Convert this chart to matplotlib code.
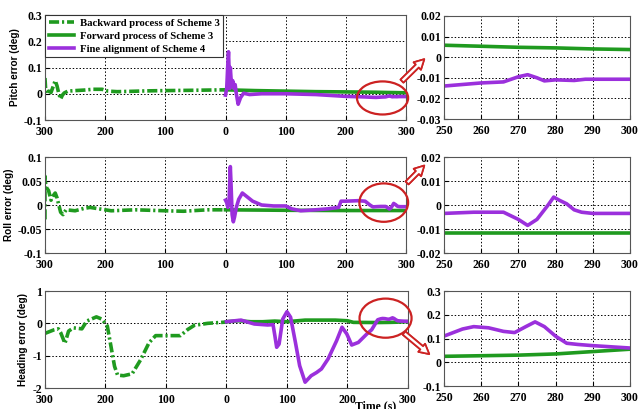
import numpy as np
import matplotlib
matplotlib.use("Agg")
import matplotlib.pyplot as plt
from matplotlib.patches import Ellipse

#===Data===#
# backward process: time counted back from 300 s (plotted on the left half)
pitch_back_t = [300, 299, 297, 294, 290, 286, 283, 280, 277, 274, 271, 268, 262, 250, 235, 220, 205, 195, 180, 160, 130, 100, 60, 30, 0]
pitch_back_v = [0.06, 0.02, 0.0, 0.01, 0.005, 0.03, 0.05, 0.03, 0.0, -0.02, -0.005, 0.003, 0.01, 0.012, 0.014, 0.017, 0.017, 0.01, 0.008, 0.009, 0.011, 0.012, 0.013, 0.014, 0.015]
pitch_fwd_t = [0, 50, 100, 150, 200, 250, 260, 270, 280, 290, 300]
pitch_fwd_v = [0.015, 0.012, 0.01, 0.008, 0.007, 0.0058, 0.0053, 0.0048, 0.0045, 0.004, 0.0037]
pitch_fine_t = [0, 2, 4, 5, 6, 7, 8, 10, 12, 14, 16, 18, 21, 25, 30, 40, 60, 100, 150, 200, 230, 250, 260, 266, 270, 272.5, 275, 277, 280, 285, 288, 300]
pitch_fine_v = [-0.005, 0.02, 0.12, 0.16, 0.09, 0.02, 0.1, 0.03, 0.05, 0.02, 0.035, 0.0, -0.04, -0.015, 0.002, -0.003, 0.0, 0.0, -0.003, -0.01, -0.012, -0.014, -0.0125, -0.012, -0.0095, -0.0085, -0.01, -0.0115, -0.011, -0.0113, -0.0107, -0.0107]

roll_back_t = [300, 300, 299, 297, 294, 290, 286, 283, 280, 277, 274, 270, 265, 250, 235, 225, 210, 190, 150, 100, 70, 30, 0]
roll_back_v = [-0.03, 0.06, 0.045, 0.035, 0.03, 0.01, 0.02, 0.025, 0.015, 0.0, -0.015, -0.02, -0.01, -0.012, -0.007, -0.005, -0.008, -0.012, -0.01, -0.012, -0.013, -0.01, -0.01]
roll_fwd_t = [0, 100, 200, 250, 300]
roll_fwd_v = [-0.01, -0.011, -0.0115, -0.0115, -0.0115]
roll_fine_t = [0, 2, 4, 6, 8, 9, 11, 13, 15, 18, 22, 28, 35, 45, 60, 80, 100, 110, 125, 150, 170, 188, 192, 200, 220, 232, 240, 245, 250, 258, 266, 270, 272.5, 275, 278, 279.5, 281, 283, 285, 287, 290, 300]
roll_fine_v = [0.01, 0.005, -0.005, 0.01, 0.08, 0.05, -0.02, -0.035, -0.025, -0.005, 0.012, 0.025, 0.018, 0.008, 0.0, -0.002, -0.002, -0.008, -0.012, -0.01, -0.008, -0.005, 0.008, 0.008, 0.009, 0.008, 0.0, -0.004, -0.0035, -0.003, -0.003, -0.006, -0.0085, -0.006, 0.0, 0.0033, 0.002, 0.0005, -0.002, -0.003, -0.0035, -0.0035]

head_back_t = [300, 285, 278, 274, 267, 261, 253, 239, 231, 215, 206, 197, 192, 185, 180, 170, 156, 142, 128, 117, 98, 76, 64, 53, 31, 0]
head_back_v = [-0.31, -0.2, -0.17, -0.29, -0.62, -0.24, -0.14, -0.17, 0.07, 0.2, 0.13, -0.08, -0.6, -1.33, -1.6, -1.62, -1.56, -1.13, -0.6, -0.38, -0.38, -0.38, -0.19, -0.06, 0.0, 0.04]
head_fwd_t = [0, 20, 40, 60, 80, 100, 130, 180, 200, 210, 250, 270, 280, 290, 300]
head_fwd_v = [0.05, 0.08, 0.05, 0.05, 0.07, 0.05, 0.1, 0.1, 0.08, 0.03, 0.025, 0.03, 0.035, 0.045, 0.055]
head_fine_t = [0, 24, 46, 68, 77, 80, 83, 87, 93, 100, 106, 114, 121, 130, 140, 149, 157, 168, 182, 191, 199, 207, 218, 232, 240, 250, 255, 258, 262, 266, 269, 272, 274.5, 277, 280, 283, 286, 290, 295, 300]
head_fine_v = [0.05, 0.1, -0.02, -0.05, -0.04, -0.38, -0.74, -0.64, 0.13, 0.36, 0.19, -0.59, -1.31, -1.82, -1.62, -1.52, -1.41, -1.1, -0.54, -0.12, -0.33, -0.67, -0.59, -0.33, -0.2, 0.11, 0.14, 0.15, 0.145, 0.13, 0.125, 0.15, 0.17, 0.15, 0.11, 0.08, 0.075, 0.07, 0.065, 0.06]

main_xticks = [-300, -200, -100, 0, 100, 200, 300]
main_xlabels = ['300', '200', '100', '0', '100', '200', '300']
zoom_xticks = [250, 260, 270, 280, 290, 300]

rows = [
    ("Pitch error (deg)", pitch_back_t, pitch_back_v, pitch_fwd_t, pitch_fwd_v, pitch_fine_t, pitch_fine_v,
     (-0.1, 0.3), [-0.1, 0, 0.1, 0.2, 0.3], ['-0.1', '0', '0.1', '0.2', '0.3'],
     (-0.03, 0.02), [-0.03, -0.02, -0.01, 0, 0.01, 0.02], ['-0.03', '-0.02', '-0.01', '0', '0.01', '0.02']),
    ("Roll error (deg)", roll_back_t, roll_back_v, roll_fwd_t, roll_fwd_v, roll_fine_t, roll_fine_v,
     (-0.1, 0.1), [-0.1, -0.05, 0, 0.05, 0.1], ['-0.1', '-0.05', '0', '0.05', '0.1'],
     (-0.02, 0.02), [-0.02, -0.01, 0, 0.01, 0.02], ['-0.02', '-0.01', '0', '0.01', '0.02']),
    ("Heading error (deg)", head_back_t, head_back_v, head_fwd_t, head_fwd_v, head_fine_t, head_fine_v,
     (-2, 1), [-2, -1, 0, 1], ['-2', '-1', '0', '1'],
     (-0.1, 0.3), [-0.1, 0, 0.1, 0.2, 0.3], ['-0.1', '0', '0.1', '0.2', '0.3']),
]

#===Style===#
green = '#1f9a1f'
purple = '#9b30dc'
red = '#cc2222'
lw = 2.6
dashdot = (0, (2.8, 0.8, 0.6, 0.8))
tickfont = dict(family='Liberation Serif', weight='bold', size=8.5)

main_pos = [[0.0704, 0.7066, 0.565, 0.2567],
            [0.0704, 0.3814, 0.565, 0.2347],
            [0.0704, 0.0513, 0.568, 0.2372]]
zoom_pos = [[0.6948, 0.709, 0.291, 0.252],
            [0.6948, 0.3814, 0.291, 0.2347],
            [0.6948, 0.0562, 0.291, 0.2323]]
ellipses = [(261, -0.016, 85, 0.126), (263, 0.005, 81, 0.08), (263, 0.16, 86, 1.21)]
arrows = [((0.626, 0.797), (0.667, 0.860)),
          ((0.634, 0.548), (0.667, 0.600)),
          ((0.629, 0.190), (0.675, 0.130))]

fig = plt.figure(figsize=(6.39, 4.09), dpi=100)

for i, row in enumerate(rows):
    (ylab, bt, bv, ft, fv, nt, nv, ylim, yt, ytl, zylim, zyt, zytl) = row

    ax = fig.add_axes(main_pos[i])
    ax.plot(-np.array(bt), bv, color=green, lw=lw, ls=dashdot, label='Backward process of Scheme 3')
    ax.plot(ft, fv, color=green, lw=lw, label='Forward process of Scheme 3')
    ax.plot(nt, nv, color=purple, lw=lw, label='Fine alignment of Scheme 4')
    ax.set_xlim(-300, 300)
    ax.set_ylim(*ylim)
    ax.set_xticks(main_xticks)
    ax.set_xticklabels(main_xlabels, fontdict=tickfont)
    ax.set_yticks(yt)
    ax.set_yticklabels(ytl, fontdict=tickfont)
    ax.set_ylabel(ylab, family='Liberation Sans', weight='bold', fontsize=7.2, labelpad=3)
    ax.grid(True, color='black', ls=(0, (1.5, 2)), lw=0.7)
    ax.tick_params(length=3, pad=2, direction='in')
    ax.tick_params(axis='x', pad=4)
    for s in ax.spines.values():
        s.set_color('#555555')
    cx, cy, w, h = ellipses[i]
    ax.add_patch(Ellipse((cx, cy), w, h, fill=False, ec=red, lw=1.6, clip_on=False, zorder=5))
    if i == 0:
        leg = ax.legend(loc='upper left', borderaxespad=0, fancybox=False, handlelength=2.4,
                        handletextpad=0.5,
                        prop=dict(family='Liberation Serif', weight='bold', size=7.7),
                        labelspacing=0.3, borderpad=0.35, framealpha=1)
        leg.get_frame().set_edgecolor('#333333')
        leg.get_frame().set_linewidth(0.8)

    az = fig.add_axes(zoom_pos[i])
    mask_f = np.array(ft) >= 250
    mask_n = np.array(nt) >= 250
    az.plot(np.array(ft)[mask_f], np.array(fv)[mask_f], color=green, lw=lw)
    az.plot(np.array(nt)[mask_n], np.array(nv)[mask_n], color=purple, lw=lw)
    az.set_xlim(250, 300)
    az.set_ylim(*zylim)
    az.set_xticks(zoom_xticks)
    az.set_xticklabels([str(t) for t in zoom_xticks], fontdict=tickfont)
    az.set_yticks(zyt)
    az.set_yticklabels(zytl, fontdict=tickfont)
    az.grid(True, color='black', ls=(0, (1.5, 2)), lw=0.7)
    az.tick_params(length=3, pad=2, direction='in')
    az.tick_params(axis='x', pad=4)
    for s in az.spines.values():
        s.set_color('#555555')

    (x0, y0), (x1, y1) = arrows[i]
    fig.add_artist(plt.annotate('', xy=(x1, y1), xytext=(x0, y0), xycoords='figure fraction',
                                textcoords='figure fraction',
                                arrowprops=dict(arrowstyle='simple,head_length=0.7,head_width=0.75,tail_width=0.3',
                                                fc='white', ec=red, lw=1.3)))

fig.text(376 / 639, 0.006, 'Time (s)', ha='center', va='center',
         family='Liberation Serif', weight='bold', fontsize=8.5)

fig.savefig('out.png', dpi=100)
